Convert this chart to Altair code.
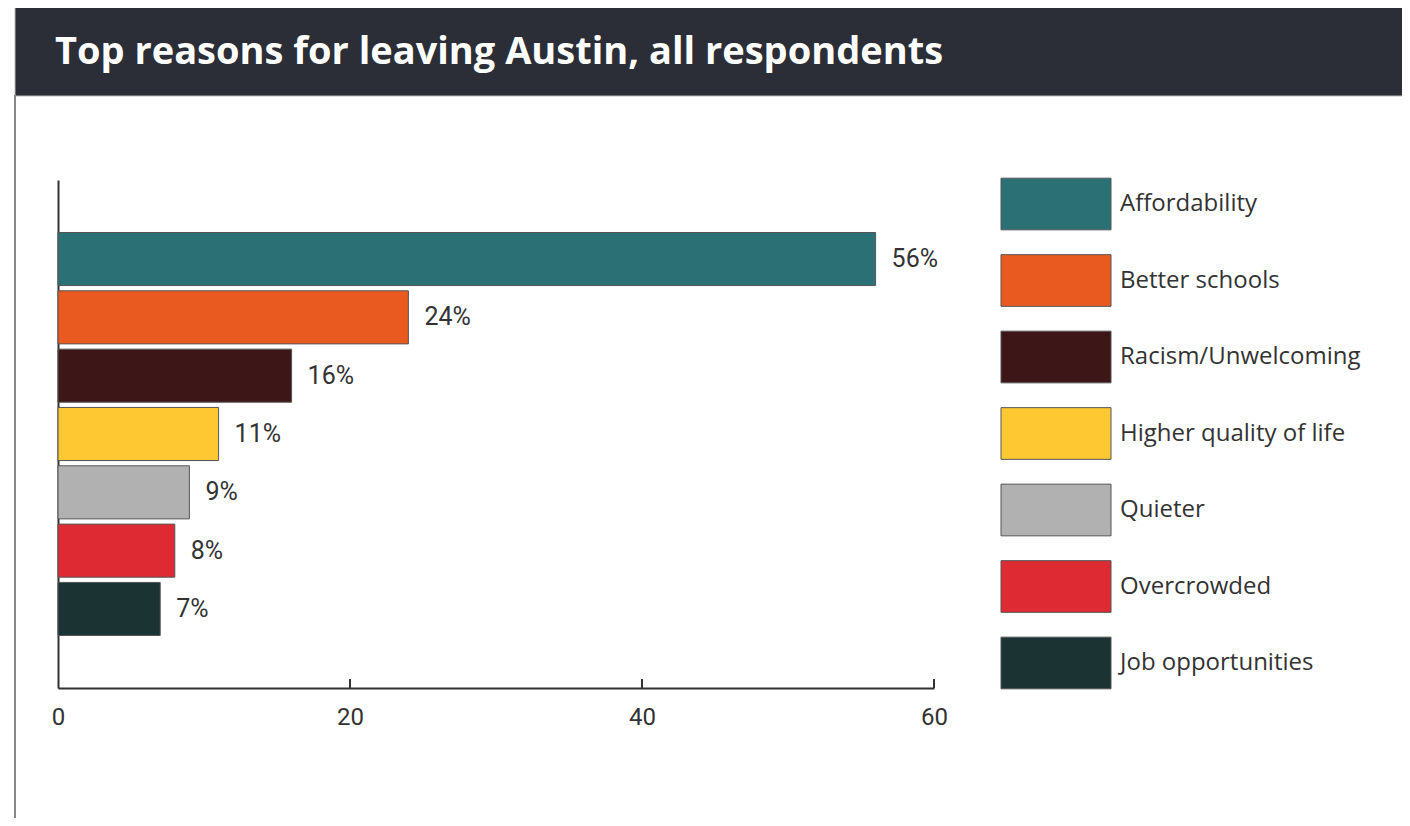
import altair as alt
import pandas as pd

reasons = ["Affordability", "Better schools", "Racism/Unwelcoming",
           "Higher quality of life", "Quieter", "Overcrowded", "Job opportunities"]
values = [56, 24, 16, 11, 9, 8, 7]
colors = ["#2a7074", "#e95a20", "#3d1718", "#fec832", "#b1b1b2", "#dd2a33", "#1c3334"]
x_ticks = [0, 20, 40, 60]
title_text = "Top reasons for leaving Austin, all respondents"

df = pd.DataFrame({"reason": reasons, "value": values,
                   "label": [f"{v}%" for v in values]})
ticks_df = pd.DataFrame({"t": x_ticks[1:]})

FONT = "Roboto"
TXT = "#333333"
W, H = 876, 508

y_enc = alt.Y("reason:N", sort=reasons,
              scale=alt.Scale(paddingInner=0.09, paddingOuter=0.9),
              axis=alt.Axis(title=None, labels=False, ticks=False,
                            domainColor="#333333", domainWidth=2))
x_scale = alt.Scale(domain=[0, 60], nice=False)

header = alt.Chart(pd.DataFrame({"t": [title_text]})).mark_rect(
    color="#2b2e36", stroke="#bbbbbb", strokeWidth=1).encode(
    x=alt.value(-43), x2=alt.value(1345), y=alt.value(-173), y2=alt.value(-84))

title = alt.Chart(pd.DataFrame({"t": [title_text]})).mark_text(
    align="left", baseline="alphabetic", font="Open Sans", fontWeight="bold",
    fontSize=38, color="white").encode(
    text="t:N", x=alt.value(-3), y=alt.value(-116))

border = alt.Chart(pd.DataFrame({"t": [title_text]})).mark_rule(
    color="#888888", strokeWidth=2).encode(
    x=alt.value(-43), y=alt.value(-85), y2=alt.value(640))

bars = alt.Chart(df).mark_bar(stroke="#555555", strokeWidth=1).encode(
    x=alt.X("value:Q", scale=x_scale,
            axis=alt.Axis(title=None, values=x_ticks, ticks=False,
                          domainColor="#333333", domainWidth=2,
                          labelFontSize=24, labelColor=TXT, labelFont=FONT,
                          labelPadding=17, labelFlush=False, grid=False)),
    y=y_enc,
    color=alt.Color("reason:N", sort=reasons,
                    scale=alt.Scale(domain=reasons, range=colors),
                    legend=alt.Legend(
                        title=None, orient="none", legendX=970, legendY=-4,
                        symbolType="M-2,-0.94H2V0.94H-2Z", symbolSize=3025,
                        symbolStrokeColor="#555555", symbolStrokeWidth=1,
                        symbolOpacity=1, labelFontSize=24, labelFont="Open Sans",
                        labelColor=TXT, labelOffset=36, rowPadding=20.5,
                        labelLimit=400)),
)

labels = alt.Chart(df).mark_text(
    align="left", baseline="middle", dx=16, fontSize=25, font=FONT,
    color=TXT).encode(
    x=alt.X("value:Q", scale=x_scale), y=alt.Y("reason:N", sort=reasons),
    text="label:N")

tick_marks = alt.Chart(ticks_df).mark_rule(color="#333333", strokeWidth=2).encode(
    x=alt.X("t:Q", scale=x_scale), y=alt.value(H - 9), y2=alt.value(H))

chart = alt.layer(header, border, title, bars, labels, tick_marks).properties(
    width=W, height=H,
    autosize=alt.AutoSizeParams(type="none"),
    padding={"left": 50, "top": 172, "right": 468, "bottom": 130},
    background="white",
).configure_view(stroke=None)

chart.save("out.html", embed_options={"renderer": "svg", "actions": False})
